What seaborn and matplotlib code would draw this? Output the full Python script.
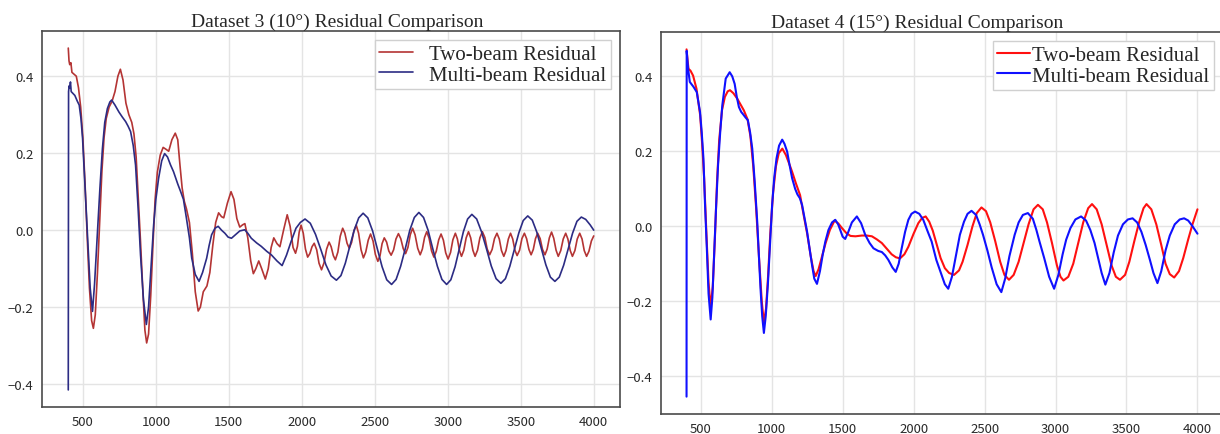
import matplotlib
matplotlib.use("Agg")
import matplotlib.pyplot as plt
import pandas as pd
import seaborn as sns

# ---------------- DATA ----------------
# (wavenumber, residual) pairs, left panel: Dataset 3
left_two = [
    (400, 0.473), (405, 0.44), (410, 0.43), (418, 0.435), (425, 0.41), (440, 0.405),
    (455, 0.40), (470, 0.37), (485, 0.32), (500, 0.24), (515, 0.12), (530, -0.02),
    (545, -0.15), (560, -0.235), (572, -0.255), (585, -0.22), (600, -0.11), (615, 0.02),
    (630, 0.15), (645, 0.24), (660, 0.29), (680, 0.32), (700, 0.335), (720, 0.36),
    (740, 0.40), (757, 0.418), (775, 0.39), (795, 0.33), (815, 0.30), (835, 0.28),
    (850, 0.25), (865, 0.19), (880, 0.08), (895, -0.03), (910, -0.15), (925, -0.26),
    (937, -0.293), (950, -0.27), (965, -0.17), (980, -0.04), (995, 0.08), (1010, 0.15),
    (1030, 0.195), (1050, 0.215), (1070, 0.21), (1088, 0.205), (1110, 0.235), (1133, 0.252),
    (1150, 0.235), (1165, 0.17), (1180, 0.11), (1195, 0.075), (1210, 0.055), (1230, 0.02),
    (1250, -0.06), (1270, -0.16), (1290, -0.21), (1305, -0.2), (1325, -0.16), (1350, -0.145),
    (1370, -0.11), (1390, -0.04), (1410, 0.02), (1430, 0.045), (1450, 0.035), (1465, 0.032),
    (1490, 0.07), (1515, 0.1), (1535, 0.08), (1555, 0.03), (1575, 0.008), (1595, 0.014),
    (1610, 0.017), (1630, -0.02), (1650, -0.08), (1668, -0.113), (1685, -0.1), (1705, -0.08),
    (1725, -0.1), (1750, -0.127), (1770, -0.1), (1790, -0.045), (1808, -0.02), (1830, -0.035),
    (1850, -0.043), (1875, 0.0), (1900, 0.04), (1920, 0.01), (1940, -0.045), (1957, -0.06),
    (1970, -0.042), (1982, -0.005), (1995, 0.013), (2010, -0.008), (2025, -0.049), (2040, -0.07),
    (2055, -0.061), (2070, -0.043), (2085, -0.034), (2102, -0.051), (2118, -0.086), (2135, -0.103),
    (2152, -0.085), (2170, -0.049), (2187, -0.031), (2201, -0.043), (2216, -0.066), (2230, -0.077),
    (2247, -0.057), (2263, -0.016), (2280, 0.005), (2295, -0.008), (2310, -0.034), (2325, -0.047),
    (2341, -0.032), (2357, -0.002), (2373, 0.013), (2389, -0.008), (2406, -0.051), (2422, -0.072),
    (2438, -0.057), (2455, -0.026), (2471, -0.01), (2488, -0.028), (2504, -0.063), (2521, -0.081),
    (2536, -0.066), (2550, -0.035), (2565, -0.02), (2581, -0.031), (2596, -0.054), (2612, -0.065),
    (2629, -0.051), (2645, -0.023), (2662, -0.009), (2678, -0.022), (2695, -0.048), (2711, -0.061),
    (2727, -0.045), (2743, -0.012), (2759, 0.005), (2776, -0.012), (2794, -0.047), (2811, -0.064),
    (2826, -0.049), (2841, -0.019), (2856, -0.004), (2872, -0.021), (2889, -0.054), (2905, -0.07),
    (2921, -0.055), (2938, -0.025), (2954, -0.01), (2970, -0.026), (2986, -0.059), (3002, -0.075),
    (3019, -0.058), (3035, -0.025), (3052, -0.008), (3066, -0.023), (3080, -0.053), (3094, -0.068),
    (3110, -0.052), (3126, -0.02), (3142, -0.004), (3157, -0.02), (3172, -0.052), (3187, -0.068),
    (3204, -0.052), (3220, -0.02), (3237, -0.004), (3254, -0.019), (3270, -0.049), (3287, -0.064),
    (3304, -0.05), (3320, -0.022), (3337, -0.008), (3353, -0.023), (3368, -0.053), (3384, -0.068),
    (3399, -0.053), (3415, -0.023), (3430, -0.008), (3445, -0.023), (3460, -0.052), (3475, -0.066),
    (3492, -0.052), (3508, -0.022), (3525, -0.008), (3540, -0.022), (3556, -0.05), (3571, -0.064),
    (3586, -0.05), (3601, -0.022), (3616, -0.008), (3633, -0.022), (3649, -0.05), (3666, -0.064),
    (3681, -0.049), (3696, -0.02), (3711, -0.005), (3726, -0.021), (3742, -0.052), (3757, -0.068),
    (3774, -0.053), (3791, -0.023), (3808, -0.008), (3823, -0.023), (3839, -0.053), (3854, -0.068),
    (3871, -0.053), (3887, -0.023), (3904, -0.008), (3920, -0.023), (3935, -0.053), (3951, -0.068),
    (3967, -0.055), (3984, -0.028), (4000, -0.015),
]

left_multi = [
    (400, -0.415), (402, 0.36), (406, 0.375), (410, 0.37), (415, 0.385), (420, 0.36),
    (432, 0.355), (445, 0.35), (462, 0.335), (475, 0.325), (487, 0.29), (498, 0.238),
    (515, 0.11), (532, -0.02), (550, -0.15), (566, -0.211), (580, -0.14), (600, -0.003),
    (617, 0.11), (634, 0.212), (650, 0.28), (668, 0.316), (685, 0.333), (697, 0.338),
    (720, 0.325), (747, 0.307), (770, 0.294), (793, 0.282), (810, 0.27), (827, 0.256),
    (845, 0.22), (861, 0.169), (878, 0.06), (895, -0.064), (915, -0.18), (935, -0.245),
    (950, -0.2), (968, -0.09), (985, 0.014), (1000, 0.08), (1019, 0.135), (1040, 0.18),
    (1060, 0.199), (1080, 0.19), (1100, 0.17), (1121, 0.152), (1150, 0.12), (1170, 0.1),
    (1189, 0.08), (1210, 0.03), (1230, -0.02), (1246, -0.073), (1270, -0.115), (1296, -0.133),
    (1320, -0.11), (1348, -0.073), (1365, -0.04), (1382, -0.012), (1405, 0.005), (1427, 0.01),
    (1450, 0.0), (1473, -0.008), (1495, -0.018), (1518, -0.021), (1545, -0.012), (1575, -0.002),
    (1609, 0.001), (1630, -0.008), (1654, -0.021), (1690, -0.033), (1722, -0.042), (1760, -0.055),
    (1791, -0.064), (1830, -0.08), (1865, -0.092), (1895, -0.065), (1927, -0.029), (1960, 0.005),
    (1990, 0.02), (2022, 0.029), (2058, 0.018), (2094, -0.011), (2130, -0.05), (2165, -0.09),
    (2201, -0.119), (2237, -0.13), (2268, -0.118), (2298, -0.086), (2328, -0.043), (2359, 0.0),
    (2390, 0.032), (2420, 0.044), (2452, 0.032), (2485, -0.002), (2518, -0.049), (2550, -0.095),
    (2582, -0.129), (2615, -0.141), (2646, -0.128), (2677, -0.094), (2709, -0.048), (2740, 0.0),
    (2771, 0.033), (2802, 0.046), (2834, 0.033), (2865, 0.0), (2897, -0.048), (2929, -0.094),
    (2960, -0.128), (2992, -0.141), (3021, -0.129), (3050, -0.095), (3078, -0.05), (3107, -0.004),
    (3136, 0.029), (3165, 0.041), (3198, 0.029), (3231, -0.004), (3265, -0.048), (3298, -0.093),
    (3331, -0.126), (3364, -0.138), (3395, -0.126), (3425, -0.094), (3456, -0.05), (3487, -0.007),
    (3517, 0.025), (3548, 0.037), (3579, 0.026), (3610, -0.005), (3641, -0.048), (3672, -0.09),
    (3703, -0.122), (3734, -0.133), (3764, -0.122), (3794, -0.091), (3825, -0.049), (3855, -0.008),
    (3885, 0.023), (3915, 0.034), (3945, 0.028), (3975, 0.014), (4000, 0.0),
]

# right panel: Dataset 4
right_two = [
    (400, 0.472), (408, 0.44), (414, 0.42), (428, 0.415), (446, 0.402), (470, 0.367),
    (496, 0.296), (510, 0.22), (524, 0.128), (540, -0.02), (555, -0.15), (570, -0.218),
    (585, -0.16), (600, -0.03), (615, 0.12), (630, 0.23), (650, 0.31), (670, 0.345),
    (690, 0.36), (706, 0.363), (730, 0.355), (758, 0.34), (780, 0.325), (804, 0.309),
    (830, 0.285), (850, 0.24), (870, 0.16), (890, 0.05), (910, -0.08), (930, -0.2),
    (945, -0.258), (960, -0.22), (975, -0.13), (990, -0.02), (1010, 0.09), (1030, 0.16),
    (1050, 0.195), (1075, 0.207), (1100, 0.19), (1125, 0.165), (1144, 0.145), (1170, 0.115),
    (1200, 0.083), (1225, 0.03), (1250, -0.02), (1275, -0.08), (1295, -0.12), (1310, -0.133),
    (1330, -0.115), (1355, -0.08), (1380, -0.045), (1410, -0.01), (1443, 0.015), (1470, 0.007),
    (1495, -0.005), (1525, -0.018), (1555, -0.026), (1590, -0.027), (1635, -0.025), (1670, -0.025),
    (1706, -0.027), (1740, -0.035), (1776, -0.045), (1810, -0.06), (1845, -0.075), (1875, -0.083),
    (1904, -0.086), (1935, -0.075), (1963, -0.055), (2000, -0.02), (2033, 0.008), (2060, 0.022),
    (2085, 0.026), (2110, 0.012), (2135, -0.012), (2160, -0.045), (2190, -0.085), (2220, -0.112),
    (2250, -0.125), (2285, -0.13), (2320, -0.118), (2345, -0.095), (2380, -0.05), (2415, 0.0),
    (2445, 0.035), (2478, 0.05), (2510, 0.04), (2540, 0.01), (2575, -0.04), (2610, -0.095),
    (2640, -0.13), (2672, -0.143), (2705, -0.13), (2740, -0.095), (2775, -0.045), (2810, 0.005),
    (2845, 0.045), (2876, 0.057), (2910, 0.045), (2940, 0.01), (2975, -0.045), (3010, -0.105),
    (3035, -0.135), (3056, -0.145), (3090, -0.135), (3125, -0.1), (3160, -0.045), (3195, 0.01),
    (3230, 0.048), (3257, 0.059), (3290, 0.045), (3325, 0.005), (3360, -0.05), (3395, -0.105),
    (3425, -0.135), (3454, -0.143), (3490, -0.13), (3520, -0.095), (3555, -0.04), (3590, 0.012),
    (3620, 0.048), (3641, 0.059), (3675, 0.045), (3710, 0.005), (3745, -0.05), (3775, -0.1),
    (3805, -0.128), (3836, -0.137), (3870, -0.12), (3900, -0.085), (3935, -0.035), (3965, 0.005),
    (4000, 0.045),
]

right_multi = [
    (400, -0.455), (401, 0.468), (405, 0.45), (411, 0.42), (423, 0.385), (449, 0.372),
    (472, 0.358), (495, 0.305), (507, 0.25), (519, 0.181), (530, 0.06), (542, -0.05),
    (555, -0.18), (570, -0.249), (582, -0.19), (594, -0.076), (608, 0.05), (622, 0.163),
    (637, 0.25), (652, 0.323), (676, 0.394), (704, 0.411), (722, 0.4), (739, 0.38),
    (754, 0.345), (769, 0.318), (785, 0.305), (800, 0.298), (816, 0.29), (832, 0.283),
    (848, 0.25), (863, 0.207), (880, 0.12), (898, 0.012), (910, -0.08), (921, -0.165),
    (933, -0.24), (945, -0.285), (958, -0.24), (973, -0.156), (988, -0.05), (1003, 0.057),
    (1018, 0.13), (1034, 0.181), (1052, 0.215), (1074, 0.231), (1090, 0.22), (1109, 0.199),
    (1125, 0.165), (1144, 0.128), (1165, 0.1), (1181, 0.085), (1198, 0.075), (1214, 0.057),
    (1232, 0.02), (1249, -0.014), (1267, -0.06), (1284, -0.103), (1300, -0.14), (1319, -0.154),
    (1340, -0.12), (1360, -0.075), (1378, -0.041), (1400, -0.01), (1425, 0.01), (1448, 0.017),
    (1468, 0.005), (1483, -0.01), (1500, -0.028), (1518, -0.034), (1540, -0.015), (1565, 0.01),
    (1600, 0.026), (1630, 0.008), (1659, -0.023), (1690, -0.045), (1717, -0.059), (1750, -0.066),
    (1776, -0.069), (1800, -0.078), (1822, -0.09), (1850, -0.11), (1874, -0.122), (1895, -0.1),
    (1916, -0.059), (1940, -0.015), (1963, 0.017), (1985, 0.033), (2010, 0.039), (2040, 0.033),
    (2068, 0.017), (2100, -0.015), (2127, -0.041), (2160, -0.09), (2197, -0.13), (2220, -0.155),
    (2244, -0.167), (2270, -0.135), (2300, -0.075), (2326, -0.023), (2355, 0.012), (2380, 0.033),
    (2408, 0.041), (2440, 0.03), (2465, 0.005), (2489, -0.023), (2520, -0.065), (2550, -0.11),
    (2585, -0.155), (2618, -0.176), (2645, -0.14), (2675, -0.08), (2712, -0.023), (2740, 0.01),
    (2770, 0.03), (2805, 0.035), (2840, 0.02), (2865, -0.01), (2887, -0.041), (2920, -0.085),
    (2955, -0.135), (2990, -0.167), (3020, -0.13), (3050, -0.075), (3075, -0.036), (3105, -0.005),
    (3140, 0.018), (3180, 0.026), (3215, 0.015), (3245, -0.01), (3275, -0.045), (3300, -0.085),
    (3325, -0.125), (3351, -0.156), (3380, -0.125), (3410, -0.07), (3440, -0.025), (3475, 0.005),
    (3510, 0.018), (3543, 0.021), (3575, 0.01), (3605, -0.015), (3635, -0.05), (3665, -0.09),
    (3690, -0.125), (3718, -0.152), (3745, -0.12), (3775, -0.065), (3805, -0.025), (3840, 0.005),
    (3875, 0.018), (3906, 0.021), (3935, 0.015), (3965, 0.0), (4000, -0.02),
]

titles = ["Dataset 3 (10°) Residual Comparison", "Dataset 4 (15°) Residual Comparison"]
labels = ["Two-beam Residual", "Multi-beam Residual"]
x_ticks = [500, 1000, 1500, 2000, 2500, 3000, 3500, 4000]
y_ticks = [-0.4, -0.2, 0.0, 0.2, 0.4]

# ---------------- STYLE ----------------
sns.set_style("whitegrid", {"grid.color": "#e4e4e4", "axes.edgecolor": "#4a4a4a"})
serif = ["Liberation Serif", "DejaVu Serif"]

fig = plt.figure(figsize=(12.2, 4.35), dpi=100)
W, H = 1220, 435
ax1 = fig.add_axes([42 / W, 1 - 408 / H, (620 - 42) / W, (408 - 32) / H])
ax2 = fig.add_axes([661 / W, 1 - 415 / H, (1223 - 661) / W, (415 - 33) / H])

panels = [
    (ax1, left_two, left_multi, ["#b43434", "#2c2c84"], 1.2, 0.8),
    (ax2, right_two, right_multi, ["#ff1010", "#1010ff"], 1.5, 0.1),
]

for ax, two, multi, colors, lw, htp in panels:
    df = pd.concat([
        pd.DataFrame(two, columns=["x", "y"]).assign(series=labels[0]),
        pd.DataFrame(multi, columns=["x", "y"]).assign(series=labels[1]),
    ], ignore_index=True)
    sns.lineplot(data=df, x="x", y="y", hue="series", palette=colors,
                 sort=False, estimator=None, linewidth=lw, ax=ax)
    ax.set_xlabel("")
    ax.set_ylabel("")
    ax.set_xticks(x_ticks)
    ax.set_yticks(y_ticks)
    ax.grid(True, color="#e4e4e4", linewidth=1.0)
    for s in ax.spines.values():
        s.set_linewidth(1.2)
        s.set_color("#4a4a4a")
    ax.tick_params(length=0, pad=6, labelsize=9.5, labelcolor="#2a2a2a")
    for t in ax.get_xticklabels() + ax.get_yticklabels():
        t.set_family(["Noto Sans CJK SC", "DejaVu Sans"])
    leg = ax.legend(loc="upper right", prop={"family": serif, "size": 15},
                    handlelength=1.6, handletextpad=htp, labelspacing=0.05,
                    borderpad=0.2, borderaxespad=0.45, frameon=True,
                    fancybox=False, framealpha=1)
    leg.get_frame().set_edgecolor("#d0d0d0")
    leg.get_frame().set_linewidth(1.0)

ax1.set_title(titles[0], family=serif, fontsize=14, x=0.51, pad=4)
ax2.set_title(titles[1], family=serif, fontsize=14, x=0.455, pad=4)

fig.savefig("out.png", dpi=100)
